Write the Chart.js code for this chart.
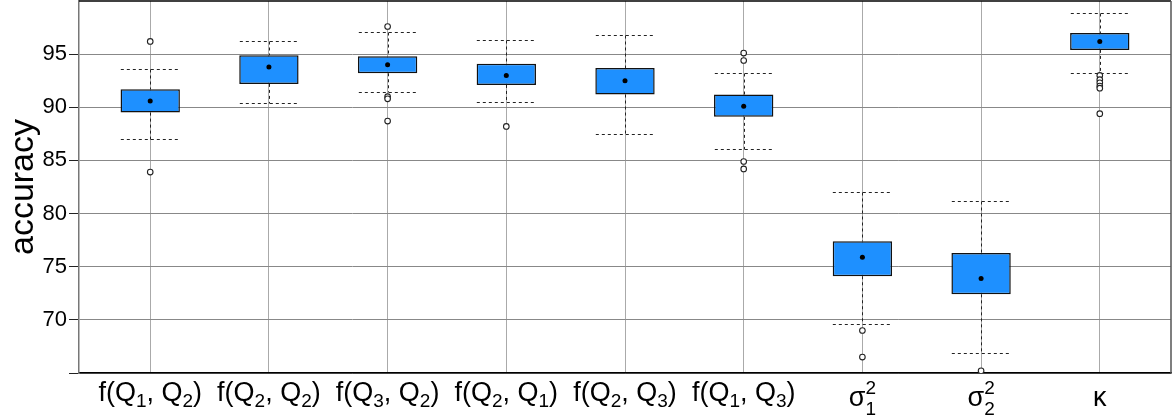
<!DOCTYPE html>
<html>
<head>
<meta charset="utf-8">
<script src="https://cdn.jsdelivr.net/npm/chart.js@4.4.0/dist/chart.umd.min.js"></script>
<style>
  html, body { margin: 0; padding: 0; background: #fff; }
  #wrap { width: 1172px; height: 419px; }
</style>
</head>
<body>
<div id="wrap"><canvas id="chart"></canvas></div>
<script>
// categories: "_x" = subscript, "^x" = superscript
const categories = ["f(Q_1, Q_2)", "f(Q_2, Q_2)", "f(Q_3, Q_2)", "f(Q_2, Q_1)", "f(Q_2, Q_3)", "f(Q_1, Q_3)", "σ^2_1", "σ^2_2", "κ"];
const q1 = [89.5, 92.2, 93.2, 92.1, 91.2, 89.1, 74.1, 72.4, 95.4];
const q3 = [91.7, 94.9, 94.8, 94.1, 93.7, 91.2, 77.4, 76.3, 97.0];
const means = [90.6, 93.8, 94.0, 93.0, 92.5, 90.1, 75.9, 73.9, 96.2];
const whiskerLow = [87.0, 90.4, 91.4, 90.5, 87.5, 86.1, 69.6, 66.9, 93.2];
const whiskerHigh = [93.6, 96.2, 97.1, 96.3, 96.8, 93.2, 82.0, 81.2, 98.9];
const outliers = [
  [96.2, 83.9],
  [],
  [97.6, 91.0, 90.8, 88.7],
  [88.2],
  [],
  [95.1, 94.4, 84.9, 84.2],
  [69.0, 66.5],
  [65.2],
  [93.0, 92.6, 92.3, 92.0, 91.8, 89.4]
];
const yTicks = [65, 70, 75, 80, 85, 90, 95];

const FONT = '"Liberation Sans", Arial, sans-serif';
const MAIN_FONT = "27px " + FONT;
const SCRIPT_FONT = "19px " + FONT;

function parseLabel(s) {
  const parts = [];
  for (let i = 0; i < s.length; i++) {
    const ch = s[i];
    if ((ch === "_" || ch === "^") && i + 1 < s.length) {
      parts.push({ t: s[i + 1], kind: ch === "_" ? "sub" : "sup" });
      i++;
    } else {
      parts.push({ t: ch, kind: "n" });
    }
  }
  return parts;
}

function layoutLabel(ctx, parts) {
  let x = 0, supStart = null, supEnd = 0;
  const out = [];
  parts.forEach((p, i) => {
    ctx.font = p.kind === "n" ? MAIN_FONT : SCRIPT_FONT;
    const w = ctx.measureText(p.t).width;
    const prev = parts[i - 1];
    if (p.kind === "sub" && prev && prev.kind === "sup") {
      out.push({ ...p, x: supStart, stacked: true });
      x = Math.max(supEnd, supStart + w);
      return;
    }
    if (p.kind === "sup") { supStart = x; supEnd = x + w; }
    out.push({ ...p, x: x, stacked: false });
    x += w;
  });
  return { items: out, width: x };
}

const boxPlugin = {
  id: "boxParts",
  beforeDatasetsDraw(chart) {
    const { ctx, chartArea, scales: { x, y } } = chart;
    const half = x.getPixelForValue(1.25) - x.getPixelForValue(1);
    ctx.save();
    ctx.beginPath();
    ctx.rect(chartArea.left, chartArea.top, chartArea.right - chartArea.left, chartArea.bottom - chartArea.top);
    ctx.clip();
    ctx.strokeStyle = "#222";
    ctx.lineWidth = 1;
    ctx.setLineDash([3, 3]);
    categories.forEach((c, i) => {
      const px = Math.round(x.getPixelForValue(i + 1)) + 0.5;
      const hi = Math.round(y.getPixelForValue(whiskerHigh[i])) + 0.5;
      const lo = Math.round(y.getPixelForValue(whiskerLow[i])) + 0.5;
      ctx.beginPath();
      ctx.moveTo(px, hi); ctx.lineTo(px, y.getPixelForValue(q3[i]));
      ctx.moveTo(px, y.getPixelForValue(q1[i])); ctx.lineTo(px, lo);
      ctx.moveTo(px - half, hi); ctx.lineTo(px + half, hi);
      ctx.moveTo(px - half, lo); ctx.lineTo(px + half, lo);
      ctx.stroke();
    });
    ctx.restore();
  },
  afterDraw(chart) {
    const { ctx, chartArea, scales: { x } } = chart;
    ctx.save();
    // frame: top and right edges
    ctx.lineWidth = 1.5;
    ctx.strokeStyle = "#000";
    ctx.beginPath();
    ctx.moveTo(chartArea.left, chartArea.top); ctx.lineTo(chartArea.right, chartArea.top);
    ctx.stroke();
    ctx.strokeStyle = "#555";
    ctx.beginPath();
    ctx.moveTo(chartArea.right, chartArea.top); ctx.lineTo(chartArea.right, chartArea.bottom);
    ctx.stroke();

    // category labels with sub/superscripts
    ctx.fillStyle = "#000";
    ctx.textBaseline = "alphabetic";
    ctx.textAlign = "left";
    categories.forEach((c, i) => {
      const cx = x.getPixelForValue(i + 1);
      const lay = layoutLabel(ctx, parseLabel(c));
      const base = c.indexOf("(") >= 0 ? chartArea.bottom + 28 : chartArea.bottom + 33;
      const x0 = cx - lay.width / 2;
      lay.items.forEach(p => {
        ctx.font = p.kind === "n" ? MAIN_FONT : SCRIPT_FONT;
        let dy = 0;
        if (p.kind === "sub") dy = p.stacked ? 9 : 6;
        if (p.kind === "sup") dy = -12;
        ctx.fillText(p.t, x0 + p.x, base + dy);
      });
    });
    ctx.restore();
  }
};

const boxData = categories.map((c, i) => ({ x: i + 1, y: [q1[i], q3[i]] }));
const meanData = categories.map((c, i) => ({ x: i + 1, y: means[i] }));
const outlierData = [];
outliers.forEach((list, i) => list.forEach(v => outlierData.push({ x: i + 1, y: v })));

new Chart(document.getElementById("chart"), {
  type: "bar",
  data: {
    datasets: [
      { type: "scatter", data: meanData, pointRadius: 2.5, pointBackgroundColor: "#000", pointBorderWidth: 0, order: 0 },
      { type: "scatter", data: outlierData, pointRadius: 2.8, pointBackgroundColor: "#fff", pointBorderColor: "#222", pointBorderWidth: 1.1, order: 1 },
      {
        type: "bar", data: boxData, backgroundColor: "#1E90FF", borderColor: "#111", borderWidth: 1.5,
        borderSkipped: false, categoryPercentage: 1, barPercentage: 0.5, order: 2
      }
    ]
  },
  options: {
    responsive: true,
    maintainAspectRatio: false,
    animation: false,
    layout: { autoPadding: false, padding: { top: 1, right: 1, left: 0, bottom: 0 } },
    plugins: { legend: { display: false }, tooltip: { enabled: false } },
    scales: {
      x: {
        type: "linear", min: 0.4, max: 9.6, offset: false,
        afterBuildTicks: (scale) => { scale.ticks = categories.map((c, i) => ({ value: i + 1 })); },
        afterFit: (scale) => {
          scale.height = 46;
          scale.paddingLeft = 0; scale.paddingRight = 0;
        },
        ticks: { display: false },
        grid: { color: "#aaa", lineWidth: 1, drawTicks: false, offset: false },
        border: { display: true, color: "#000", width: 1.5 }
      },
      y: {
        min: 65, max: 100,
        afterBuildTicks: (scale) => { scale.ticks = yTicks.map(v => ({ value: v })); },
        afterFit: (scale) => {
          scale.width = 79;
          scale.paddingTop = 0; scale.paddingBottom = 0;
        },
        ticks: {
          color: "#000", padding: 2, font: { family: FONT, size: 22 },
          callback: (v) => (v === 65 ? "" : String(v))
        },
        grid: { color: "#888", lineWidth: 1, tickLength: 10, tickColor: "#222" },
        border: { display: true, color: "#777", width: 1.5 },
        title: { display: true, text: "accuracy", color: "#000", font: { family: FONT, size: 34 }, padding: { top: 3, bottom: 0 } }
      }
    }
  },
  plugins: [boxPlugin]
});
</script>
</body>
</html>
